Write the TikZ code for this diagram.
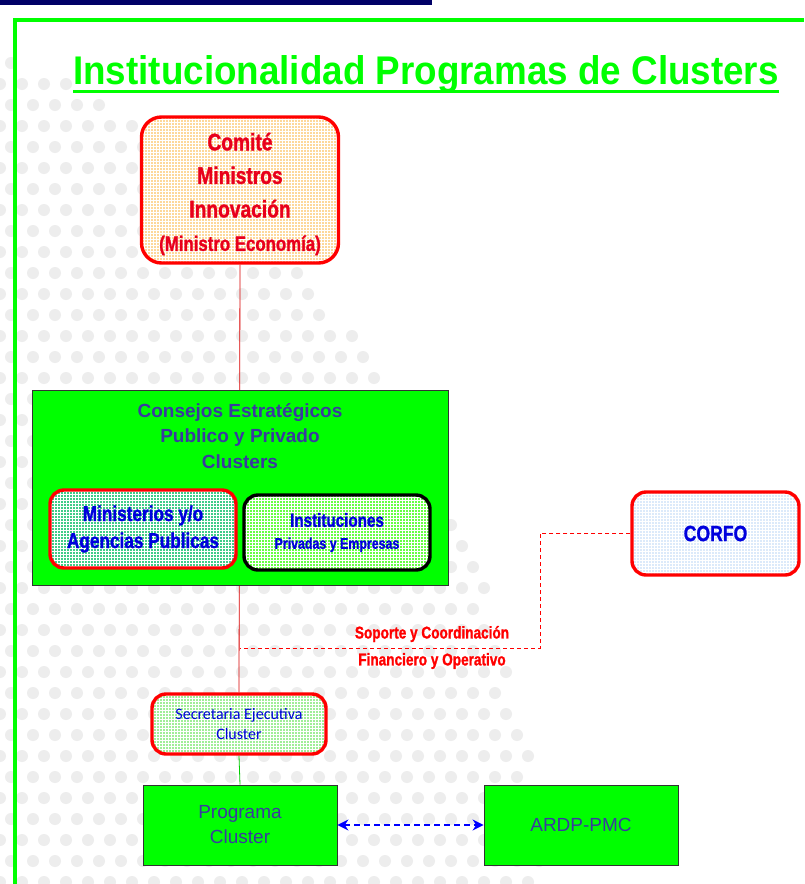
\documentclass[tikz,border=0pt]{standalone}
\usepackage{fontspec}
\setmainfont{Liberation Sans}
\newfontfamily\cond[FakeStretch=0.8,FakeBold=1.2]{Liberation Sans Bold}
\newfontfamily\titlefont[FakeStretch=0.92]{Liberation Sans Bold}
\newfontfamily\calib{Carlito}
\usetikzlibrary{patterns,arrows.meta}
\definecolor{brightgreen}{HTML}{00FF00}
\definecolor{navybar}{HTML}{000066}
\definecolor{redtext}{HTML}{E8001C}
\definecolor{redline}{HTML}{FF0000}
\definecolor{comfill}{HTML}{FDD89A}
\definecolor{slate}{HTML}{3A3AA0}
\definecolor{minfill}{HTML}{40CC88}
\definecolor{instfill}{HTML}{66FF44}
\definecolor{corfill}{HTML}{DCEAFA}
\definecolor{secfill}{HTML}{A0EE98}
\definecolor{dotgray}{HTML}{EDEDED}
\definecolor{bluetext}{HTML}{0000DD}
\pgfdeclarelayer{dots}
\pgfdeclarelayer{bg}
\pgfsetlayers{dots,bg,main}
\tikzset{
  roundbox/.style={draw, rounded corners=14pt, line width=3.4pt, inner sep=2pt, align=center,
    preaction={fill=#1}, preaction={pattern=grid, pattern color=white, fill opacity=0.4}},
  greenbox/.style={draw=black!80, fill=brightgreen, line width=0.8pt, inner sep=0pt},
  bigtip/.tip={Stealth[length=11pt,width=11pt]},
}
\begin{document}
\begin{tikzpicture}[x=1pt,y=-1pt]
\useasboundingbox (0,0) rectangle (804,884);
% background dots
\begin{pgfonlayer}{dots}
\fill[white] (0,0) rectangle (804,884);
\foreach \j in {0,...,42}{
  \foreach \i in {0,...,37}{
    \pgfmathsetmacro\xx{\i*22+mod(\j,2)*11}
    \pgfmathsetmacro\yy{\j*21}
    \pgfmathtruncatemacro\ins{(((\xx+400)/100)^2+((\yy-900)/100)^2<88.36)}
    \ifnum\ins=1 \fill[dotgray] (\xx,\yy) circle[radius=6pt]; \fi
  }
}
\end{pgfonlayer}
% frame
\fill[navybar] (0,0) rectangle (432,5);
\draw[brightgreen, line width=4pt] (15,884) -- (15,20) -- (804,20);
% title
\node[anchor=base, inner sep=0pt, text=brightgreen, font=\titlefont\fontsize{40}{44}\selectfont] (title) at (426,84) {Institucionalidad Programas de Clusters};
\draw[brightgreen, line width=3pt] ([yshift=-7pt]title.base west) -- ([yshift=-7pt]title.base east);
% Comite
\node[roundbox=comfill, draw=redline, minimum width=197pt, minimum height=146pt, rounded corners=20pt] (com) at (240,190) {};
\node[align=center, inner sep=0pt, text=redtext, font=\cond\fontsize{24}{33.5}\selectfont] (comtext) at (240,194)
  {Comité\\Ministros\\Innovación\\{\fontsize{21}{30}\selectfont(Ministro Economía)}};
% Consejos
\node[greenbox, minimum width=416pt, minimum height=195pt] (cons) at (240,487.5) {};
\node[align=center, text=slate, font=\bfseries\fontsize{19}{25.5}\selectfont, inner sep=0pt] (constext) at (240,436) {Consejos Estratégicos\\Publico y Privado\\Clusters};
\node[roundbox=minfill, draw=redline, minimum width=186pt, minimum height=78pt, text=bluetext, font=\cond\fontsize{21.5}{27}\selectfont] (min) at (143,529) {Ministerios y/o\\Agencias Publicas};
\node[roundbox=instfill, draw=black, minimum width=186pt, minimum height=75pt, text=bluetext, font=\cond\fontsize{19}{22}\selectfont] (inst) at (337,532.5) {Instituciones\\{\fontsize{15.5}{22}\selectfont Privadas y Empresas}};
% CORFO
\node[roundbox=corfill, draw=redline, minimum width=167pt, minimum height=83pt, text=bluetext, font=\cond\fontsize{22}{25}\selectfont] (cor) at (715.5,533.5) {CORFO};
% Secretaria
\node[roundbox=secfill, draw=redline, minimum width=174pt, minimum height=60pt, text=bluetext, font=\calib\fontsize{16}{20}\selectfont] (sec) at (239,724) {Secretaria Ejecutiva\\Cluster};
% Programa / ARDP
\node[greenbox, minimum width=194pt, minimum height=80pt, align=center, text=slate, font=\fontsize{19}{25}\selectfont] (prog) at (240,825) {Programa\\Cluster};
\node[greenbox, minimum width=194pt, minimum height=80pt, text=slate, font=\fontsize{19}{25}\selectfont] (ardp) at (581,825) {ARDP-PMC};
% connectors
\coordinate (bend) at (540,648);
\coordinate (join) at (240,648);
\begin{pgfonlayer}{bg}
\draw[redline!85!black, line width=0.8pt] (com.south) -- (sec.north);
\draw[brightgreen!80!black, line width=0.8pt] (sec.south) -- (prog.north);
\draw[redline, line width=0.9pt, dash pattern=on 4pt off 3pt] (cor.west) -| (bend) -- (join);
\end{pgfonlayer}
\node[text=redline, font=\cond\fontsize{17}{18}\selectfont, inner sep=0pt] (lab1) at (432,634) {Soporte y Coordinación};
\node[text=redline, font=\cond\fontsize{17}{18}\selectfont, inner sep=0pt] (lab2) at (432,661) {Financiero y Operativo};
\draw[blue, line width=1.5pt, dash pattern=on 6pt off 4pt, {bigtip}-{bigtip}] (prog.east) -- (ardp.west);
\end{tikzpicture}
\end{document}
